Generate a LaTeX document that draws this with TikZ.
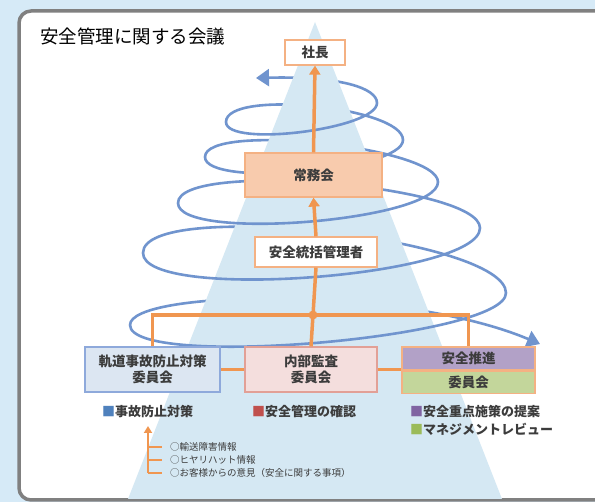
\documentclass[tikz,border=0pt]{standalone}
\usepackage{fontspec}
\setmainfont{Noto Sans CJK JP}
\usetikzlibrary{arrows.meta,positioning}
\definecolor{outerbg}{RGB}{214,234,247}
\definecolor{panelgray}{RGB}{128,128,128}
\definecolor{pyramidblue}{RGB}{213,232,243}
\definecolor{spiralblue}{RGB}{112,148,206}
\definecolor{linkorange}{RGB}{240,150,80}
\definecolor{boxline}{RGB}{244,177,131}
\definecolor{execfill}{RGB}{248,203,173}
\definecolor{accidentfill}{RGB}{220,230,242}
\definecolor{accidentline}{RGB}{142,169,219}
\definecolor{auditfill}{RGB}{244,222,221}
\definecolor{auditline}{RGB}{226,160,150}
\definecolor{promopurple}{RGB}{178,161,199}
\definecolor{promogreen}{RGB}{195,214,155}
\definecolor{legblue}{RGB}{79,129,189}
\definecolor{legred}{RGB}{192,80,77}
\definecolor{legpurple}{RGB}{128,100,162}
\definecolor{leggreen}{RGB}{155,187,89}
\definecolor{ink}{RGB}{60,60,60}

\begin{document}
\begin{tikzpicture}[x=1pt,y=-1pt,
  box/.style={draw=boxline,line width=1.2pt,text=ink,align=center,inner sep=0pt,
    font=\fontsize{13.5}{16}\selectfont\bfseries},
  spiral/.style={draw=spiralblue,line width=2.6pt,line cap=round},
  swoosh/.style={spiral,-{Triangle[length=13pt,width=17pt]}},
  link/.style={draw=linkorange,line width=3.5pt},
  legend/.style={anchor=west,inner sep=0pt,text=ink,font=\fontsize{13}{15}\selectfont\bfseries},
  info/.style={anchor=west,inner sep=0pt,text=ink,font=\fontsize{9.5}{11}\selectfont}]
\useasboundingbox (0,0) rectangle (595,502);
\clip (0,0) rectangle (595,502);
\fill[outerbg] (0,0) rectangle (595,502);
\draw[panelgray,line width=3.5pt,fill=white,rounded corners=12pt] (19,11) rectangle (640,500);
\node[anchor=west,inner sep=0pt,font=\fontsize{18.5}{20}\selectfont] (title) at (40,37) {安全管理に関する会議};

% back of the spiral
\draw[swoosh] (377,103) .. controls (377,88) and (340,76) .. (256,78);
\foreach \lx/\ly/\rx/\ry/\k in {226/122/403/140/33,205/157/438/182/35,178/203/480/228/43,143/253/506/293/55}
  \draw[spiral] (\lx,\ly) .. controls (\lx,{\ly-\k}) and (\rx,{\ry-\k}) .. (\rx,\ry);
\draw[swoosh] (130,325) .. controls (130,290) and (400,285) .. (540,344);

\fill[pyramidblue] (315,22) -- (128,499) -- (502,499) -- cycle;

% front of the spiral
\foreach \rx/\ry/\lx/\ly/\k in {377/103/226/122/26,403/140/205/157/31,438/182/178/203/39,480/228/143/253/49,506/293/130/325/45}
  \draw[spiral] (\rx,\ry) .. controls (\rx,{\ry+\k}) and (\lx,{\ly+\k}) .. (\lx,\ly);

\node[box,fill=white,minimum width=60pt,minimum height=25pt] (president) at (315,52.5) {社長};
\node[box,fill=execfill,minimum width=137pt,minimum height=44pt] (executive) at (313.5,175) {常務会};
\node[box,fill=white,minimum width=122pt,minimum height=30pt] (safetymgr) at (316,252) {安全統括管理者};
\node[box,draw=accidentline,fill=accidentfill,minimum width=135pt,minimum height=45pt] (accident) at (152.5,369.5) {軌道事故防止対策\\委員会};
\node[box,draw=auditline,fill=auditfill,minimum width=132pt,minimum height=45pt] (audit) at (311,369.5) {内部監査\\委員会};
\node[box,fill=promopurple,minimum width=133pt,minimum height=23pt] (promo) at (468.5,358.5) {安全推進};
\node[box,fill=promogreen,minimum width=133pt,minimum height=22pt,below=0pt of promo] (promo2) {委員会};

\coordinate (hub) at (313,315);
\draw[link] (audit.north) -- (hub) -- (safetymgr.south);
\draw[link,-{Triangle[length=9pt,width=11pt]}] (safetymgr.north) -- (executive.south);
\draw[link,-{Triangle[length=9pt,width=11pt]}] (executive.north) -- (president.south);
\draw[link] (accident.north) |- (hub) -| (promo.north);
\fill[linkorange] (hub) circle (4.5pt);
\draw[link] (accident.east) -- (audit.west);
\draw[link] (audit.east) -- (audit.east -| promo2.west);

\node[legend] (legacc) at (102,412) {\textcolor{legblue}{■}事故防止対策};
\node[legend] (legaud) at (252,412) {\textcolor{legred}{■}安全管理の確認};
\node[legend] (legpro) at (410,412) {\textcolor{legpurple}{■}安全重点施策の提案};
\node[legend] (legrev) at (410,429) {\textcolor{leggreen}{■}マネジメントレビュー};

\node[info] (info1) at (170,447) {○輸送障害情報};
\node[info] (info2) at (170,460) {○ヒヤリハット情報};
\node[info] (info3) at (170,473) {○お客様からの意見（安全に関する事項）};
\coordinate (feed) at (148,473);
\draw[draw=linkorange,line width=2.2pt,-{Triangle[length=7pt,width=8pt]}] (feed) -- (148,426);
\draw[draw=linkorange,line width=2.2pt] (feed) -- (info3.west -| 162,0);
\draw[draw=linkorange,line width=2.2pt] (148,460) -- (info2.west -| 162,0);
\draw[draw=linkorange,line width=2.2pt] (148,447) -- (info1.west -| 162,0);
\end{tikzpicture}
\end{document}
